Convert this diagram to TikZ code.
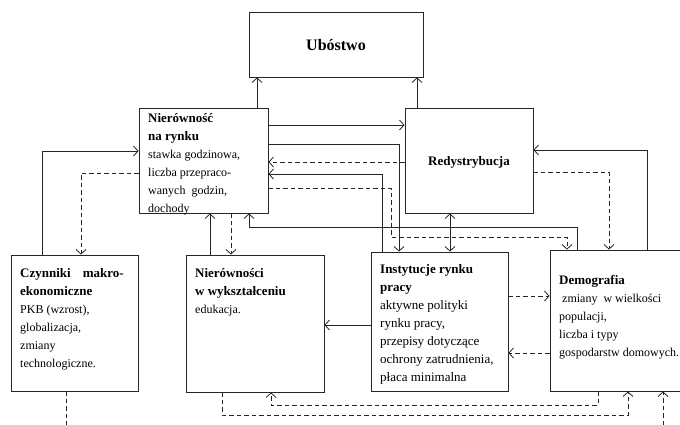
\documentclass[tikz,border=0pt]{standalone}
\usepackage{fontspec}
\setmainfont{Liberation Serif}
\usetikzlibrary{arrows.meta}
\tikzset{
  box/.style={draw=black!85, line width=0.9pt, inner sep=0pt, minimum width=#1},
  arr/.style={draw=black!85, line width=0.9pt, -{Straight Barb[length=4.5pt,width=10pt,line width=0.8pt]}},
  arrboth/.style={draw=black!85, line width=0.9pt, {Straight Barb[length=4.5pt,width=10pt,line width=0.8pt]}-{Straight Barb[length=4.5pt,width=10pt,line width=0.8pt]}},
  darr/.style={arr, dash pattern=on 4.5pt off 3pt},
  dline/.style={draw=black!85, line width=0.9pt, dash pattern=on 4.5pt off 3pt},
  txt/.style={anchor=base west, inner sep=0pt, font=\fontsize{12}{18}\selectfont},
  hd/.style={font=\fontsize{13}{18}\selectfont\bfseries}
}
\newcommand{\hdr}[1]{{\fontsize{13}{18}\selectfont\bfseries #1}}
\begin{document}
\begin{tikzpicture}[x=1pt,y=-1pt]
\useasboundingbox (0,0) rectangle (680,424);
\begin{scope}
\clip (0,0) rectangle (680,424);
% boxes
\node[box=174pt, minimum height=65pt] (ub) at (336,44.5) {};
\node[box=129pt, minimum height=105pt] (nr) at (203.5,160.5) {};
\node[box=128pt, minimum height=105pt] (rd) at (469,160.5) {};
\node[box=127pt, minimum height=136pt] (cz) at (74.5,323) {};
\node[box=138pt, minimum height=137pt] (wk) at (255,323.5) {};
\node[box=137pt, minimum height=139pt] (in) at (439.5,321.5) {};
\node[box=134pt, minimum height=141pt] (dm) at (617,320.5) {};
\end{scope}
% texts
\node[inner sep=0pt, font=\fontsize{16}{18}\selectfont\bfseries] (tub) at (336,45) {Ubóstwo};
\node[inner sep=0pt, hd] (trd) at (469,162) {Redystrybucja};
\node[txt] (tnr) at (148,122) {\begin{tabular}[t]{@{}l@{}}\hdr{Nierówność}\\ \hdr{na rynku}\\ stawka godzinowa,\\ liczba przepraco-\\ wanych~ godzin,\\ dochody\end{tabular}};
\node[txt] (tcz) at (20,277) {\begin{tabular}[t]{@{}l@{}}\hdr{Czynniki\hspace{12pt}makro-}\\ \hdr{ekonomiczne}\\ PKB (wzrost),\\ globalizacja,\\ zmiany\\ technologiczne.\end{tabular}};
\node[txt] (twk) at (195,277) {\begin{tabular}[t]{@{}l@{}}\hdr{Nierówności}\\ \hdr{w wykształceniu}\\ edukacja.\end{tabular}};
\node[txt, font=\fontsize{13}{18}\selectfont] (tin) at (380,273) {\begin{tabular}[t]{@{}l@{}}\hdr{Instytucje rynku}\\ \hdr{pracy}\\ aktywne polityki\\ rynku pracy,\\ przepisy dotyczące\\ ochrony zatrudnienia,\\ płaca minimalna\end{tabular}};
\node[txt] (tdm) at (559,284) {\begin{tabular}[t]{@{}l@{}}\hdr{Demografia}\\ \ zmiany~ w wielkości\\ populacji,\\ liczba i typy\\ gospodarstw domowych.\end{tabular}};
% connectors
\draw[arr] (nr.north -| 257,0) -- (ub.south -| 257,0);
\draw[arr] (rd.north -| 417,0) -- (ub.south -| 417,0);
\draw[arr] (nr.east |- 0,125) -- (rd.west |- 0,125);
\draw[arr] (nr.east |- 0,144) -| (in.north -| 399,0);
\draw[darr] (rd.west |- 0,162) -- (nr.east |- 0,162);
\draw[arr] (in.north -| 382,0) |- (nr.east |- 0,174);
\draw[darr] (nr.east |- 0,188) -| (391,237) -| (dm.north -| 567,0);
\draw[arr] (dm.north -| 577,0) |- (249,227) -- (nr.south -| 249,0);
\draw[arrboth] (rd.south -| 450,0) -- (in.north -| 450,0);
\draw[arr] (dm.north -| 647,0) |- (rd.east |- 0,150);
\draw[darr] (rd.east |- 0,172) -| (dm.north -| 609,0);
\draw[arr] (cz.north -| 42,0) |- (nr.west |- 0,151);
\draw[darr] (nr.west |- 0,173) -| (cz.north -| 81,0);
\draw[arr] (wk.north -| 210,0) -- (nr.south -| 210,0);
\draw[darr] (nr.south -| 231,0) -- (wk.north -| 231,0);
\draw[arr] (in.west |- 0,325) -- (wk.east |- 0,325);
\draw[darr] (in.east |- 0,296) -- (dm.west |- 0,296);
\draw[darr] (dm.west |- 0,353) -- (in.east |- 0,353);
\draw[darr] (dm.south -| 598,0) |- (271,405) -- (wk.south -| 271,0);
\draw[darr] (wk.south -| 222,0) |- (628,415) -- (dm.south -| 628,0);
\coordinate (e1) at (663,425);
\draw[darr] (e1) -- (dm.south -| 663,0);
\coordinate (e2) at (66,425);
\draw[dline] (cz.south -| 66,0) -- (e2);
\end{tikzpicture}
\end{document}
